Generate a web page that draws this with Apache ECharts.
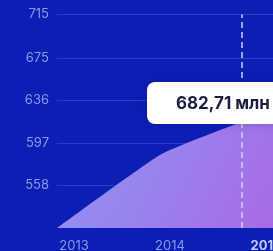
<!DOCTYPE html>
<html>
<head>
<meta charset="utf-8">
<script src="https://cdn.jsdelivr.net/npm/echarts@6/dist/echarts.min.js"></script>
<style>
  html, body { margin: 0; padding: 0; background: #0b1fb5; }
  #chart { width: 273px; height: 251px; }
</style>
</head>
<body>
<div id="chart"></div>
<script>
// data
const years = [2012.823, 2013.9, 2014.75, 2015.073];
const values = [519, 586.3, 616.5, 625];
const yTicks = [558, 597, 636, 675, 715];
const xLabels = [2013, 2014, 2015];
const markerYear = 2014.75;
const tooltipText = '682,71 млн';

const chart = echarts.init(document.getElementById('chart'));

let option = {
  backgroundColor: '#0b1fb5',
  animation: false,
  textStyle: { fontFamily: 'Inter' },
  grid: { left: 57, right: 0, top: 14.5, bottom: 23, outerBoundsMode: 'none' },
  xAxis: {
    type: 'value',
    min: 2012.823,
    max: 2015.073,
    axisLine: { show: false },
    axisTick: { show: false },
    splitLine: { show: false },
    axisLabel: {
      customValues: xLabels,
      margin: 12,
      fontSize: 13,
      color: '#8a98e8',
      formatter: v => v === 2015 ? '{b|' + v + '}' : String(v),
      rich: { b: { fontSize: 13, fontWeight: 'bold', color: '#c3cbff', fontFamily: 'Inter' } }
    }
  },
  yAxis: {
    type: 'value',
    min: 519,
    max: 715,
    axisLine: { show: false },
    axisTick: { show: false, customValues: yTicks },
    axisLabel: { customValues: yTicks, margin: 8, fontSize: 13, color: '#8a98e8' },
    splitLine: { lineStyle: { color: 'rgba(150,165,255,0.22)', width: 1 } }
  },
  series: [{
    type: 'line',
    data: years.map((y, i) => [y, values[i]]),
    smooth: 0.15,
    showSymbol: false,
    lineStyle: { width: 0 },
    areaStyle: {
      opacity: 1,
      color: new echarts.graphic.LinearGradient(0, 0, 1, 1, [
        { offset: 0, color: '#8c98f4' },
        { offset: 1, color: '#a86ae6' }
      ])
    },
    markLine: {
      silent: true,
      symbol: 'none',
      label: { show: false },
      lineStyle: { color: 'rgba(205,210,255,0.75)', type: [6, 4], width: 2 },
      data: [{ xAxis: markerYear }]
    }
  }],
  graphic: [{
    type: 'rect',
    z: 100,
    shape: { x: 147, y: 82, width: 170, height: 42, r: 8 },
    style: { fill: '#ffffff', shadowBlur: 10, shadowColor: 'rgba(10,20,80,0.25)' }
  }, {
    type: 'text',
    z: 101,
    x: 176, y: 104,
    style: {
      text: tooltipText,
      font: 'bold 17px Inter',
      fill: '#1b1d3f',
      verticalAlign: 'middle'
    }
  }]
};

option && chart.setOption(option);
</script>
</body>
</html>
